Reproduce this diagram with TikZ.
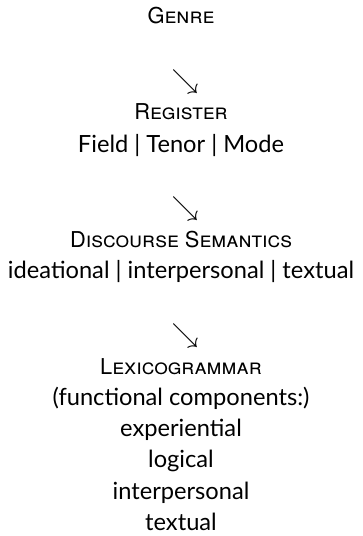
\documentclass[tikz,border=0pt]{standalone}
\usepackage{fontspec}
\setmainfont{Lato}
\newfontfamily\scfont{TeX Gyre Heros}
\newlength\wref
\newlength\wsc
\settowidth\wref{\fontsize{10pt}{12pt}\selectfont ideational | interpersonal | textual}
\settowidth\wsc{\scfont\fontsize{10pt}{12pt}\selectfont\textsc{Discourse Semantics}}
\pgfmathsetmacro\msize{10*346/\wref}
\pgfmathsetmacro\ssize{10*222/\wsc}
\tikzset{
  body/.style={anchor=base, inner sep=0pt, font=\fontsize{\msize pt}{\msize pt}\selectfont},
  head/.style={anchor=base, inner sep=0pt, font=\scfont\fontsize{\ssize pt}{\ssize pt}\selectfont},
  arr/.style={inner sep=0pt}
}
\begin{document}
\begin{tikzpicture}[x=1pt,y=-1pt]
\useasboundingbox (0,0) rectangle (362,536);
\node[head] (genre) at (181,23) {\textsc{Genre}};
\node[arr] (a1) at (185,81.5) {\scalebox{2.7}{$\searrow$}};
\node[head] (reg) at (181,119) {\textsc{Register}};
\node[body] (ftm) at (181,152) {Field | Tenor | Mode};
\node[arr] (a2) at (185,208.5) {\scalebox{2.7}{$\searrow$}};
\node[head] (ds) at (181,247) {\textsc{Discourse Semantics}};
\node[body] (iit) at (181,278) {ideational | interpersonal | textual};
\node[arr] (a3) at (185,335.5) {\scalebox{2.7}{$\searrow$}};
\node[head] (lg) at (181,374) {\textsc{Lexicogrammar}};
\node[body] (fc) at (181,405) {(functional components:)};
\node[body] (exp) at (181,436) {experiential};
\node[body] (log) at (181,467) {logical};
\node[body] (ip) at (181,499) {interpersonal};
\node[body] (tx) at (181,530) {textual};
\end{tikzpicture}
\end{document}
